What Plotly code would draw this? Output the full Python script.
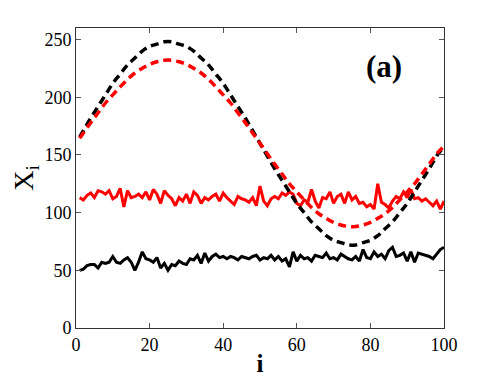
import plotly.graph_objects as go

# dashed curves, sampled every 2 steps of i
i_dash = [1] + list(range(2, 100, 2)) + [100]
black_dashed = [165.5, 171, 182, 192, 202, 212, 220, 228, 234, 240, 244, 246, 248,
                248, 246, 244, 240, 234, 228, 220, 212, 202, 192, 182, 171, 160,
                149, 138, 128, 118, 108, 100, 92, 86, 80, 76, 74, 72,
                72, 74, 76, 80, 86, 92, 100, 108, 118, 128, 138, 149, 157]
red_dashed = [164.5, 169, 178, 186.5, 195, 202, 209, 215.5, 221, 225, 228.5, 230.7, 232,
              232, 230.7, 228.5, 225, 221, 215.5, 209, 202, 195, 186.5, 178, 169, 160,
              151, 142, 133.5, 125, 118, 111, 104.5, 99, 95, 91.5, 89.3, 88,
              88, 89.3, 91.5, 95, 99, 104.5, 111, 118, 125, 133.5, 142, 151, 157.5]

i_noisy = list(range(1, 101))
black_noisy = [50, 51, 54, 55, 55, 52, 57, 56, 57, 62, 57, 56, 59, 61, 57, 50, 57, 66, 60, 59,
               57, 61, 52, 56, 50, 55, 54, 58, 56, 55, 60, 59, 63, 56, 65, 58, 62, 64, 61, 62,
               60, 62, 61, 59, 62, 61, 60, 62, 63, 59, 61, 60, 63, 59, 62, 58, 60, 53, 66, 58,
               63, 60, 61, 58, 63, 62, 61, 65, 60, 61, 59, 64, 62, 60, 59, 62, 58, 68, 61, 60,
               66, 62, 64, 60, 67, 70, 62, 63, 65, 58, 66, 57, 65, 64, 63, 62, 60, 64, 68, 70]
red_noisy = [113, 111, 115, 117, 113, 119, 118, 116, 119, 112, 114, 121, 105, 119, 113, 114, 116, 113, 118, 111,
             120, 116, 108, 119, 115, 112, 106, 113, 110, 116, 108, 118, 115, 108, 113, 111, 114, 116, 110, 117,
             113, 110, 107, 114, 112, 111, 109, 113, 106, 123, 110, 106, 112, 114, 112, 117, 115, 118, 116, 108,
             106, 111, 109, 120, 110, 104, 113, 112, 118, 108, 114, 116, 108, 118, 111, 114, 108, 109, 105, 107,
             103, 125, 109, 107, 104, 110, 114, 112, 118, 113, 120, 112, 113, 110, 112, 109, 106, 110, 103, 110]

x_ticks = [0, 20, 40, 60, 80, 100]
y_ticks = [0, 50, 100, 150, 200, 250]

fig = go.Figure()
fig.add_trace(go.Scatter(x=i_noisy, y=red_noisy, mode="lines",
                         line=dict(color="#ff0000", width=3)))
fig.add_trace(go.Scatter(x=i_noisy, y=black_noisy, mode="lines",
                         line=dict(color="#000000", width=3)))
fig.add_trace(go.Scatter(x=i_dash, y=black_dashed, mode="lines",
                         line=dict(color="#000000", width=3.5, dash="8px,5px", shape="spline")))
fig.add_trace(go.Scatter(x=i_dash, y=red_dashed, mode="lines",
                         line=dict(color="#ff0000", width=3.5, dash="8px,5px", shape="spline")))

fig.add_annotation(x=83.7, y=227, text="<b>(a)</b>", showarrow=False,
                   font=dict(family="Liberation Serif", size=31, color="black"))

axis_common = dict(showline=True, linecolor="#333333", linewidth=1, mirror="ticks",
                   ticks="inside", ticklen=5, tickcolor="#555555", showgrid=False,
                   zeroline=False, automargin=False,
                   tickfont=dict(family="Liberation Serif", size=18, color="black"))
fig.update_xaxes(range=[0, 100], tickvals=x_ticks,
                 title=dict(text="<b>i</b>", font=dict(family="Liberation Serif", size=25, color="black"),
                            standoff=0),
                 **axis_common)
fig.update_yaxes(range=[0, 260], tickvals=y_ticks,
                 title=dict(text="X<sub>i</sub>", font=dict(family="Liberation Serif", size=28, color="black"),
                            standoff=8),
                 **axis_common)

fig.update_layout(width=491, height=376, showlegend=False,
                  margin=dict(l=68, r=55, t=20, b=56),
                  plot_bgcolor="white", paper_bgcolor="white")
fig.write_html("out.html")
